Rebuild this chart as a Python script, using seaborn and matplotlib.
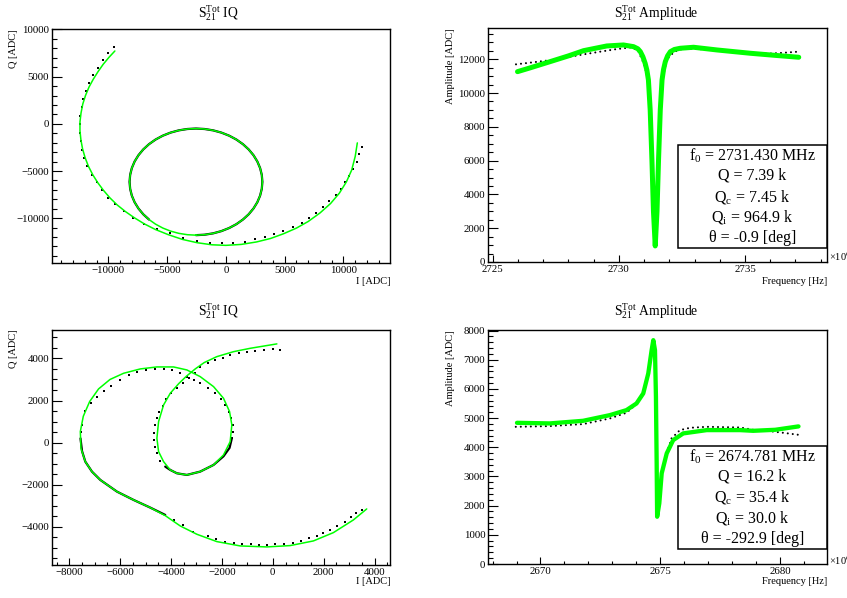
import matplotlib
matplotlib.use("Agg")
import matplotlib.pyplot as plt
import seaborn as sns
from matplotlib.ticker import MultipleLocator, FuncFormatter
from matplotlib.patches import Rectangle

# ---------------- data ----------------
# Panel 1: IQ, resonator 1 -- sparse data points (outer spiral)
p1_dots_a_I = [-9500, -10020, -10500, -10920, -11290, -11630, -11940, -12140, -12280, -12400, -12430, -12430,
               -12370, -12280, -12060, -11800, -11430, -11000, -10580, -10070, -9450, -8680, -7890, -6980]
p1_dots_a_Q = [8150, 7480, 6730, 5960, 5210, 4360, 3510, 2660, 1770, 850, -70, -960,
               -1810, -2730, -3620, -4510, -5390, -6210, -6990, -7810, -8480, -9220, -9990, -10600]
p1_dots_b_I = [-5900, -4770, -3630, -2440, -1360, -370, 620, 1620, 2470, 3320, 4110, 4880, 5680, 6440,
               7060, 7660, 8230, 8790, 9340, 9760, 10160, 10500, 10840, 11120, 11350, 11550]
p1_dots_b_Q = [-11170, -11600, -12060, -12380, -12590, -12660, -12590, -12480, -12230, -12020, -11700, -11320,
               -10930, -10470, -9970, -9400, -8830, -8230, -7550, -6880, -6210, -5500, -4760, -4010, -3230, -2450]
# dense data on the resonance circle
p1_circ_I = [-2550, -1813, -1088, -388, 275, 890, 1445, 1933, 2343, 2670, 2907, 3051, 3100,
             3051, 2907, 2670, 2343, 1933, 1445, 890, 275, -388, -1088, -1813, -2550,
             -3287, -4012, -4712, -5375, -5990, -6545, -7033, -7443, -7770, -8007, -8151, -8200,
             -8151, -8007, -7770, -7443, -7033, -6545]
p1_circ_Q = [-11800, -11751, -11607, -11370, -11043, -10633, -10145, -9590, -8975, -8312, -7612, -6887, -6150,
             -5413, -4688, -3988, -3325, -2710, -2155, -1667, -1257, -930, -693, -549, -500,
             -549, -693, -930, -1257, -1667, -2155, -2710, -3325, -3988, -4688, -5413, -6150,
             -6887, -7612, -8312, -8975, -9590, -10145]
# fit curve: outer spiral and resonance loop
p1_fit_I = [-9450, -9950, -10450, -10900, -11300, -11650, -11950, -12180, -12330, -12420, -12420, -12340,
            -12200, -11980, -11700, -11330, -10900, -10420, -9870, -9250, -8550, -7800, -6950, -6000, -4900,
            -3700, -2450, -1200, 0, 1300, 2600, 3800, 4900, 6000, 7000, 8000, 8900, 9650, 10250, 10700,
            11000, 11180]
p1_fit_Q = [7720, 7050, 6300, 5500, 4700, 3900, 3000, 2100, 1150, 200, -750, -1700,
            -2650, -3600, -4500, -5400, -6250, -7050, -7850, -8600, -9300, -9950, -10600, -11200, -11750,
            -12250, -12600, -12820, -12880, -12780, -12520, -12150, -11650, -11050, -10350, -9450, -8450,
            -7350, -6150, -4900, -3450, -2020]
p1_loop_I = [-2550, -1813, -1088, -388, 275, 890, 1445, 1933, 2343, 2670, 2907, 3051, 3100,
             3051, 2907, 2670, 2343, 1933, 1445, 890, 275, -388, -1088, -1813, -2550,
             -3287, -4012, -4712, -5375, -5990, -6545, -7033, -7443, -7770, -8007, -8151, -8200,
             -8151, -8007, -7770, -7443, -7033, -6545, -5990, -5375, -4712, -4012, -3287, -2550]
p1_loop_Q = [-11800, -11751, -11607, -11370, -11043, -10633, -10145, -9590, -8975, -8312, -7612, -6887, -6150,
             -5413, -4688, -3988, -3325, -2710, -2155, -1667, -1257, -930, -693, -549, -500,
             -549, -693, -930, -1257, -1667, -2155, -2710, -3325, -3988, -4688, -5413, -6150,
             -6887, -7612, -8312, -8975, -9590, -10145, -10633, -11043, -11370, -11607, -11751, -11800]

# Panel 2: amplitude, resonator 1 (frequency in units of 1e6 Hz)
p2_data_f = [2725.92, 2726.6, 2727.3, 2727.94, 2728.6, 2729.26, 2729.9, 2730.45, 2730.75, 2731.0, 2731.17,
             2731.3, 2731.44, 2731.58, 2731.71, 2731.9, 2732.2, 2732.5, 2733.0, 2733.9, 2735.0, 2735.9,
             2736.5, 2737.13]
p2_data_A = [11700, 11820, 11950, 12120, 12290, 12450, 12600, 12700, 12550, 11700, 10700, 6000, 950, 6000,
             10700, 12000, 12450, 12600, 12620, 12520, 12400, 12330, 12380, 12450]
p2_fit_f = [2725.98, 2726.5, 2727.27, 2728.0, 2728.6, 2729.52, 2730.18, 2730.58, 2730.75, 2730.85, 2730.95,
            2731.04, 2731.11, 2731.17, 2731.24, 2731.31, 2731.37, 2731.44, 2731.51, 2731.57, 2731.64, 2731.71,
            2731.77, 2731.84, 2731.93, 2732.04, 2732.2, 2732.43, 2732.96, 2733.89, 2735.21, 2736.2, 2737.13]
p2_fit_A = [11266, 11500, 11858, 12200, 12509, 12787, 12846, 12746, 12620, 12450, 12150, 11763, 11350, 10775,
            9000, 6000, 3000, 950, 3000, 6000, 9000, 10775, 11400, 11858, 12200, 12450, 12580, 12650, 12710,
            12550, 12355, 12230, 12118]

# Panel 3: IQ, resonator 2
p3_dots_I = [3496, 3260, 3077, 2841, 2540, 2252, 1990, 1754, 1427, 1100, 786, 445, 105, -236, -524, -864,
             -1218, -1545, -1872, -2226, -2566, -3142, -3535, -3900,
             -7554, -7502, -7371, -7148, -6913, -6651, -6363, -6023, -5669, -5342, -4988, -4648, -4294, -3954,
             -3640, -3378, -3100, -2854, -2566, -2265, -2029, -1872, -1741, -1650, -1584, -1584, -1610,
             -4425, -4556, -4622, -4661, -4661, -4622, -4556, -4464, -4334, -4203, -4006, -3771, -3548, -3312,
             -3050, -2854, -2566, -2265, -1964, -1676, -1348, -1021, -681, -340, 0, 288]
p3_dots_Q = [-3199, -3357, -3515, -3753, -3959, -4133, -4307, -4418, -4545, -4671, -4751, -4814, -4830, -4862,
             -4862, -4830, -4830, -4782, -4703, -4576, -4418, -4228, -3911, -3674,
             523, 839, 1504, 1869, 2185, 2454, 2708, 2977, 3215, 3341, 3452, 3500, 3500, 3452,
             3294, 3135, 2980, 2819, 2581, 2344, 2074, 1789, 1473, 1156, 840, 523, 206,
             -871, -507, -190, 127, 443, 839, 1156, 1473, 1758, 2074, 2344, 2581, 2819, 3056,
             3294, 3579, 3769, 3927, 4038, 4165, 4244, 4291, 4355, 4402, 4434, 4386]
p3_dense1_I = [-4229, -4818, -5473, -6127, -6780, -7109, -7371, -7500, -7560]
p3_dense1_Q = [-3436, -3088, -2724, -2328, -1774, -1378, -903, -400, 200]
p3_dense2_I = [-1610, -1700, -1938, -2330, -2855, -3378, -3771, -4032, -4229]
p3_dense2_Q = [206, -250, -650, -1061, -1378, -1536, -1457, -1298, -1140]
p3_fit_I = [3692, 3168, 2383, 1597, 681, -236, -1283, -2200, -2985, -3640, -4229, -4818, -5473, -6127, -6780,
            -7109, -7371, -7541, -7567, -7450, -7200, -6850, -6400, -5866, -5211, -4556, -3902, -3378, -2855,
            -2330, -1938, -1700, -1610, -1676, -1938, -2330, -2855, -3378, -3771, -4032, -4294, -4490, -4556,
            -4490, -4294, -4032, -3700, -3400, -3050, -2700, -2200, -1545, -890, 160]
p3_fit_Q = [-3151, -3674, -4276, -4671, -4893, -4956, -4909, -4703, -4355, -3959, -3468, -3088, -2724, -2328,
            -1774, -1378, -903, -269, 523, 1250, 1950, 2550, 3000, 3294, 3500, 3595, 3595, 3452, 3135,
            2660, 2106, 1473, 840, 48, -586, -1061, -1378, -1536, -1457, -1298, -903, -428, 206,
            998, 1789, 2343, 2800, 3150, 3500, 3800, 4085, 4320, 4480, 4690]

# Panel 4: amplitude, resonator 2
p4_data_f = [2668.97, 2670.39, 2671.78, 2672.9, 2673.59, 2674.0, 2674.3, 2674.5, 2674.64, 2674.71, 2674.78,
             2674.82, 2674.85, 2674.87, 2674.96, 2675.06, 2675.27, 2675.47, 2675.82, 2676.24, 2676.94,
             2678.33, 2678.88, 2679.5, 2680.2, 2680.77]
p4_data_A = [4702, 4726, 4795, 4990, 5183, 5480, 5840, 6500, 7300, 7650, 7300, 5700, 3450, 1650, 2100, 3100,
             3800, 4305, 4589, 4668, 4702, 4680, 4600, 4560, 4490, 4428]
p4_fit_f = [2669.02, 2670.39, 2671.78, 2672.9, 2673.59, 2674.01, 2674.29, 2674.5, 2674.64, 2674.71, 2674.78,
            2674.82, 2674.85, 2674.87, 2674.96, 2675.06, 2675.27, 2675.54, 2675.96, 2676.94, 2678.33, 2678.88,
            2679.8, 2680.77]
p4_fit_A = [4839, 4818, 4908, 5103, 5274, 5503, 5846, 6531, 7329, 7671, 7329, 5730, 3449, 1620, 2079, 3106,
            3791, 4247, 4476, 4589, 4589, 4565, 4600, 4716]

titles = [r"$\mathrm{S}_{21}^{\mathrm{Tot}}$ IQ", r"$\mathrm{S}_{21}^{\mathrm{Tot}}$ Amplitude"]
box1 = [r"f$_0$ = 2731.430 MHz", "Q = 7.39 k", r"Q$_\mathrm{c}$ = 7.45 k", r"Q$_\mathrm{i}$ = 964.9 k",
        "θ = -0.9 [deg]"]
box2 = [r"f$_0$ = 2674.781 MHz", "Q = 16.2 k", r"Q$_\mathrm{c}$ = 35.4 k", r"Q$_\mathrm{i}$ = 30.0 k",
        "θ = -292.9 [deg]"]

# ---------------- style ----------------
sns.set_theme(style="ticks")
plt.rcParams.update({
    'font.family': ['Liberation Serif', 'DejaVu Serif'],
    'mathtext.fontset': 'custom',
    'mathtext.rm': 'Liberation Serif',
    'mathtext.it': 'Liberation Serif:italic',
    'mathtext.bf': 'Liberation Serif:bold',
    'text.color': 'black', 'axes.edgecolor': 'black',
    'xtick.color': 'black', 'ytick.color': 'black',
    'lines.scale_dashes': False,
})
GREEN = '#00ff00'
W, H = 847, 598
fig = plt.figure(figsize=(W / 100, H / 100), dpi=100)
fig.patch.set_facecolor('white')


def ax_px(l, t, r, b):
    return fig.add_axes([l / W, 1 - b / H, (r - l) / W, (b - t) / H])


def fmt(v, _):
    s = f"{v:.0f}"
    if s == "-0":
        s = "0"
    return s.replace('-', '\u2212')


def style(ax, xlim, ylim, xmaj, xmin, ymaj, ymin):
    ax.set_xlim(*xlim)
    ax.set_ylim(*ylim)
    ax.xaxis.set_major_locator(MultipleLocator(xmaj))
    ax.xaxis.set_minor_locator(MultipleLocator(xmin))
    ax.yaxis.set_major_locator(MultipleLocator(ymaj))
    ax.yaxis.set_minor_locator(MultipleLocator(ymin))
    ax.xaxis.set_major_formatter(FuncFormatter(fmt))
    ax.yaxis.set_major_formatter(FuncFormatter(fmt))
    ax.tick_params(which='both', direction='in', top=False, right=False, labelsize=7.8, width=0.8)
    ax.tick_params(axis='x', which='major', length=5, pad=2)
    ax.tick_params(axis='x', which='minor', length=2.5)
    ax.tick_params(axis='y', which='major', length=7, pad=2)
    ax.tick_params(axis='y', which='minor', length=3.5)
    for s in ax.spines.values():
        s.set_visible(True)
        s.set_linewidth(1.0)
        s.set_color('black')
    ax.set_xlabel('')
    ax.set_ylabel('')
    ax.set_facecolor('white')


def path(ax, x, y, **kw):
    sns.lineplot(x=x, y=y, sort=False, estimator=None, ax=ax, **kw)


def dots(ax, x, y):
    sns.scatterplot(x=x, y=y, ax=ax, color='black', marker='s', s=4, linewidth=0, zorder=3)


def fpx(x, y):
    return x / W, 1 - y / H


# ---------------- panel 1 ----------------
ax1 = ax_px(52, 29, 390, 263)
dots(ax1, p1_dots_a_I, p1_dots_a_Q)
dots(ax1, p1_dots_b_I, p1_dots_b_Q)
path(ax1, p1_circ_I, p1_circ_Q, color='black', linewidth=1.6, zorder=3)
path(ax1, p1_fit_I, p1_fit_Q, color=GREEN, linewidth=1.1, zorder=4)
path(ax1, p1_loop_I, p1_loop_Q, color=GREEN, linewidth=1.1, zorder=4)
style(ax1, (-14800, 13960), (-14750, 10050), 5000, 1000, 5000, 1000)

# ---------------- panel 2 ----------------
ax2 = ax_px(488, 28, 827, 262)
path(ax2, p2_data_f, p2_data_A, color='black', linewidth=1.5, linestyle=(0, (0.01, 3.6)),
     dash_capstyle='round', zorder=3)
path(ax2, p2_fit_f, p2_fit_A, color=GREEN, linewidth=3.6, zorder=4)
style(ax2, (2724.81, 2738.25), (0, 13850), 5, 1, 2000, 500)

# ---------------- panel 3 ----------------
ax3 = ax_px(52, 330, 390, 565)
dots(ax3, p3_dots_I, p3_dots_Q)
path(ax3, p3_dense1_I, p3_dense1_Q, color='black', linewidth=1.6, zorder=3)
path(ax3, p3_dense2_I, p3_dense2_Q, color='black', linewidth=1.6, zorder=3)
path(ax3, p3_fit_I, p3_fit_Q, color=GREEN, linewidth=1.1, zorder=4)
style(ax3, (-8680, 4607), (-5815, 5350), 2000, 500, 2000, 500)

# ---------------- panel 4 ----------------
ax4 = ax_px(488, 330, 827, 564)
path(ax4, p4_data_f, p4_data_A, color='black', linewidth=1.5, linestyle=(0, (0.01, 3.6)),
     dash_capstyle='round', zorder=3)
path(ax4, p4_fit_f, p4_fit_A, color=GREEN, linewidth=3.1, zorder=4)
style(ax4, (2667.81, 2681.96), (0, 8020), 5, 1, 1000, 200)

# ---------------- titles & axis labels ----------------
for yoff in (0, 298):
    fig.text(*fpx(218.5, 13 + yoff), titles[0], ha='center', va='center', fontsize=9.8)
    fig.text(*fpx(656.5, 13 + yoff), titles[1], ha='center', va='center', fontsize=9.8)
    fig.text(*fpx(390, 281 + yoff + (2 if yoff else 0)), "I [ADC]", ha='right', va='center', fontsize=7.5)
    fig.text(*fpx(827, 281 + yoff + (2 if yoff else 0)), "Frequency [Hz]", ha='right', va='center',
             fontsize=7.5)
    fig.text(*fpx(13, 29 + yoff + (3 if yoff else 0)), "Q [ADC]", rotation=90, ha='center', va='top',
             fontsize=7.5)
    fig.text(*fpx(450, 28 + yoff + (4 if yoff else 0)), "Amplitude [ADC]", rotation=90, ha='center',
             va='top', fontsize=7.5)

fig.text(*fpx(829, 257), r"×10$^{6}$", ha='left', va='center', fontsize=7.5)
fig.text(*fpx(829, 561), r"×10$^{6}$", ha='left', va='center', fontsize=7.5)

# ---------------- parameter boxes ----------------
for (top, bot), lines in (((145, 248), box1), ((446, 549), box2)):
    l, r = 678, 827
    fig.add_artist(Rectangle((l / W, 1 - bot / H), (r - l) / W, (bot - top) / H, transform=fig.transFigure,
                             facecolor='white', edgecolor='black', linewidth=1.1, zorder=10))
    step = (bot - top) / len(lines)
    for i, t in enumerate(lines):
        fig.text(*fpx((l + r) / 2, top + (i + 0.5) * step), t, ha='center', va='center', fontsize=11.5,
                 zorder=11)

fig.savefig("out.png", dpi=100, facecolor='white')
